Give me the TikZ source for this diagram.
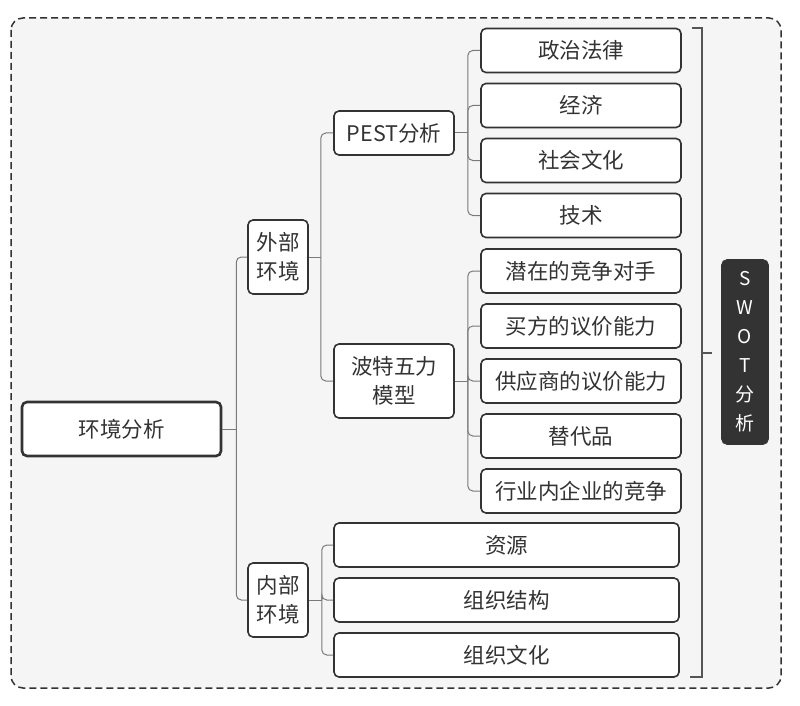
\documentclass[tikz,border=0pt]{standalone}
\usepackage{fontspec}
\setmainfont{Noto Sans CJK SC}
\usepackage{tikz}
\usetikzlibrary{positioning}
\definecolor{INK}{HTML}{333333}
\definecolor{WIRE}{HTML}{7A7A7A}
\definecolor{BRACE}{HTML}{555555}
\definecolor{PAPER}{HTML}{F5F5F5}

\begin{document}
\begin{tikzpicture}[x=1pt,y=-1pt]
\tikzset{box/.style={draw=INK,fill=white,rounded corners=5pt,line width=1.6pt,text=INK,inner sep=0pt,
 font=\fontsize{21.5}{29}\selectfont,align=center},leaf/.style={box,minimum width=200pt,minimum height=44pt},
 wide/.style={box,minimum width=345pt,minimum height=44pt},wire/.style={WIRE,line width=1pt},elbow/.style={wire,rounded corners=5pt}}
\useasboundingbox (0,0) rectangle (800,706);
\draw[INK,line width=1.5pt,dash pattern=on 7pt off 4pt,fill=PAPER,rounded corners=12pt] (11,18) rectangle (781,688);
% main branches
\node[box,line width=2.6pt,minimum width=199pt,minimum height=54pt] (root) at (121.5,429) {环境分析};
\node[box,minimum width=60pt,minimum height=74pt] (ext) at (278,257) {外部\\环境};
\node[box,minimum width=60pt,minimum height=74pt] (int) at (278,600) {内部\\环境};
\node[box,minimum width=120pt,minimum height=44pt] (pest) at (394,133) {PEST分析};
\node[box,minimum width=120pt,minimum height=74pt] (porter) at (394,381) {波特五力\\模型};
% leaves
\foreach \n/\y/\t in {pol/50.5/政治法律,eco/105.5/经济,soc/160.5/社会文化,tec/215.5/技术,
 rival/271/潜在的竞争对手,buyer/326/买方的议价能力,supplier/381/供应商的议价能力,subst/436/替代品,inner/491/行业内企业的竞争}
 {\node[leaf] (\n) at (581,\y) {\t};}
\foreach \n/\y/\t in {res/545/资源,org/600/组织结构,cult/655/组织文化}{\node[wide] (\n) at (506.5,\y) {\t};}
\node[box,fill=INK,text=white,minimum width=46pt,minimum height=184pt,font=\fontsize{19}{29}\selectfont] (swot) at (745,352) {S\\W\\O\\T\\分\\析};
% connectors
\draw[wire] (root.east) -- ++(14,0) coordinate (rootj);
\foreach \c in {ext,int}{\draw[elbow] (rootj) |- (\c.west);}
\draw[wire] (ext.east) -- ++(12,0) coordinate (extj);
\foreach \c in {pest,porter}{\draw[elbow] (extj) |- (\c.west);}
\draw[wire] (pest.east) -- ++(13,0) coordinate (pestj);
\foreach \c in {pol,eco,soc,tec}{\draw[elbow] (pestj) |- (\c.west);}
\draw[wire] (porter.east) -- ++(13,0) coordinate (porterj);
\foreach \c in {rival,buyer,supplier,subst,inner}{\draw[elbow] (porterj) |- (\c.west);}
\draw[wire] (int.east) -- ++(13,0) coordinate (intj);
\foreach \c in {res,org,cult}{\draw[elbow] (intj) |- (\c.west);}
% bracket
\coordinate (brtop) at (692,28);\coordinate (brbot) at (690,677);\coordinate (brmid) at (702,353);
\draw[BRACE,line width=1.8pt] (brtop) -- (702,28) -- (702,677) -- (brbot);
\draw[BRACE,line width=1.8pt] (brmid) -- ++(10,0);
\end{tikzpicture}
\end{document}
